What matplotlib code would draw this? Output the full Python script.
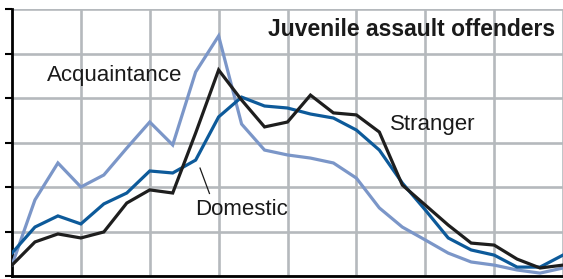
import matplotlib.pyplot as plt
import numpy as np

plt.rcParams['font.family'] = ['Liberation Sans', 'DejaVu Sans']

#%% DATA (one point per step)
steps = np.arange(25)
acquaintance = [0.49, 3.42, 5.08, 4.00, 4.54, 5.75, 6.92, 5.89, 9.17, 10.79,
                6.83, 5.66, 5.44, 5.30, 5.08, 4.40, 3.06, 2.20, 1.62, 1.03,
                0.63, 0.49, 0.27, 0.13, 0.36]
domestic = [1.03, 2.20, 2.70, 2.34, 3.24, 3.73, 4.72, 4.63, 5.21, 7.15,
            8.04, 7.64, 7.55, 7.28, 7.10, 6.56, 5.66, 4.18, 2.97, 1.71,
            1.17, 0.94, 0.40, 0.40, 0.94]
stranger = [0.49, 1.53, 1.89, 1.71, 1.98, 3.28, 3.87, 3.73, 6.43, 9.26,
            7.91, 6.70, 6.92, 8.13, 7.33, 7.24, 6.47, 4.09, 3.19, 2.29,
            1.48, 1.39, 0.76, 0.36, 0.49]

#%% PLOT
fig = plt.figure(figsize=(5.63, 2.79), dpi=100)
ax = fig.add_axes([12 / 563, 3 / 279, 551 / 563, 267 / 279])

ax.plot(steps, acquaintance, color='#7b96c8', lw=2.3, solid_joinstyle='miter', zorder=3)
ax.plot(steps, domestic, color='#0d5a9a', lw=2.3, solid_joinstyle='miter', zorder=4)
ax.plot(steps, stranger, color='#1e1e1e', lw=2.3, solid_joinstyle='miter', zorder=5)

ax.set_xlim(0, 24)
ax.set_ylim(0, 12)
ax.set_xticks(np.arange(3, 25, 3))
ax.set_yticks(np.arange(0, 13, 2))
ax.grid(True, color='#b5b9bd', lw=1.9)
ax.set_axisbelow(True)
ax.tick_params(axis='x', length=0, labelbottom=False)
ax.tick_params(axis='y', direction='out', length=5, width=1.5, color='black',
               labelleft=False)
for side in ['top', 'right']:
    ax.spines[side].set_visible(False)
ax.spines['left'].set_linewidth(2)
ax.spines['bottom'].set_linewidth(2)

# labels
ax.text(23.65, 11.06, 'Juvenile assault offenders', ha='right', va='center',
        fontsize=16.5, fontweight='bold', color='#1a1a1a')
ax.text(1.52, 9.03, 'Acquaintance', ha='left', va='center', fontsize=16, color='#1a1a1a')
ax.text(16.46, 6.79, 'Stranger', ha='left', va='center', fontsize=16, color='#1a1a1a')
ax.text(7.97, 2.97, 'Domestic', ha='left', va='center', fontsize=16, color='#1a1a1a')
ax.plot([8.19, 8.60], [4.85, 3.71], color='#1a1a1a', lw=0.9)

fig.savefig('out.png', dpi=100)
